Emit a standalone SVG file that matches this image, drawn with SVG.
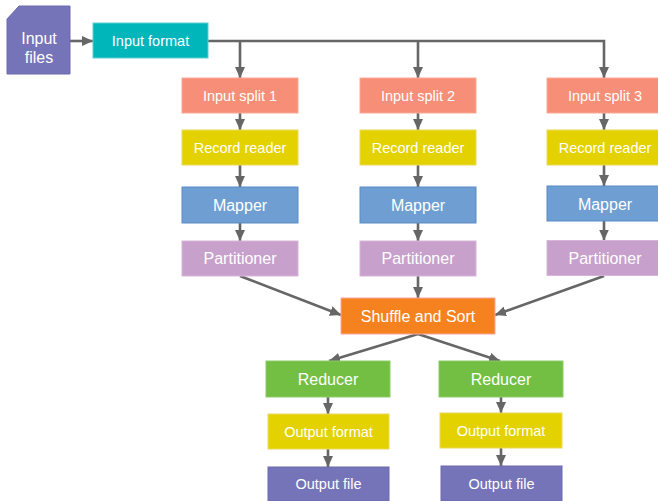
<svg xmlns="http://www.w3.org/2000/svg" width="658" height="501" viewBox="0 0 658 501">
<style>
text{font-family:"Liberation Sans",Arial,sans-serif;fill:#ffffff;text-anchor:middle}
.s{font-size:14.5px}
.l{font-size:16px}
.con path{fill:none;stroke:#666666;stroke-width:2.6;marker-end:url(#ah)}
.files{fill:#7674b8;stroke:#6c6ab0;stroke-width:1}
.fmt{fill:#00b6ba;stroke:#5ccfd0;stroke-width:1}
.split{fill:#f68e78;stroke:#f9aa96;stroke-width:1}
.rr{fill:#e3d200;stroke:#ead95a;stroke-width:1}
.map{fill:#6f9fd2;stroke:#5b8bc2;stroke-width:1}
.part{fill:#c8a0cc;stroke:#d6b6d8;stroke-width:1}
.shuf{fill:#f5821f;stroke:#f7a6a0;stroke-width:1}
.red{fill:#72bf44;stroke:#8ccc68;stroke-width:1}
</style>
<defs>
<marker id="ah" markerUnits="userSpaceOnUse" markerWidth="11" markerHeight="10" viewBox="0 0 11 10" refX="11" refY="5" orient="auto">
<path d="M0,0 L11,5 L0,10 Z" fill="#666666"/>
</marker>
</defs>
<g id="connectors" class="con">
<path d="M70,41 H93"/>
<path d="M208,41 H604 V78"/>
<path d="M240,41 V78"/>
<path d="M418,41 V78"/>
<path d="M240,113 V130"/>
<path d="M418,113 V130"/>
<path d="M604,113 V130"/>
<path d="M240,165 V187"/>
<path d="M418,165 V187"/>
<path d="M604,165 V186"/>
<path d="M240,223 V241"/>
<path d="M418,223 V241"/>
<path d="M604,221 V240.5"/>
<path d="M240,276 L341,315"/>
<path d="M418,276 V298"/>
<path d="M604,276 L495,315"/>
<path d="M418,334 L329,361"/>
<path d="M418,334 L500,361"/>
<path d="M328,397 V414"/>
<path d="M501,397 V413"/>
<path d="M328,449 V467"/>
<path d="M501,448 V466"/>
</g>
<g id="input-files"><path class="files" d="M7,19 L19,6 L70,6 L70,74 L7,74 Z"/><text class="l" x="39" y="43.5">Input</text><text class="l" x="39" y="62.5">files</text></g>
<g id="input-format"><rect class="fmt" x="93" y="23" width="115" height="35"/><text class="s" x="150.5" y="46">Input format</text></g>
<g id="split1"><rect class="split" x="182" y="78" width="116" height="35"/><text class="s" x="240" y="101">Input split 1</text></g>
<g id="split2"><rect class="split" x="360" y="78" width="116" height="35"/><text class="s" x="418" y="101">Input split 2</text></g>
<g id="split3"><rect class="split" x="547" y="78" width="116" height="35"/><text class="s" x="605" y="101">Input split 3</text></g>
<g id="rr1"><rect class="rr" x="182" y="130" width="116" height="35"/><text class="s" x="240" y="153">Record reader</text></g>
<g id="rr2"><rect class="rr" x="360" y="130" width="116" height="35"/><text class="s" x="418" y="153">Record reader</text></g>
<g id="rr3"><rect class="rr" x="547" y="130" width="116" height="35"/><text class="s" x="605" y="153">Record reader</text></g>
<g id="mapper1"><rect class="map" x="182" y="187" width="116" height="36"/><text class="l" x="240" y="211">Mapper</text></g>
<g id="mapper2"><rect class="map" x="360" y="187" width="116" height="36"/><text class="l" x="418" y="211">Mapper</text></g>
<g id="mapper3"><rect class="map" x="547" y="186" width="116" height="35"/><text class="l" x="605" y="209.5">Mapper</text></g>
<g id="part1"><rect class="part" x="182" y="241" width="116" height="35"/><text class="l" x="240" y="264">Partitioner</text></g>
<g id="part2"><rect class="part" x="360" y="241" width="116" height="35"/><text class="l" x="418" y="264">Partitioner</text></g>
<g id="part3"><rect class="part" x="547" y="240.5" width="116" height="35"/><text class="l" x="605" y="263.5">Partitioner</text></g>
<g id="shuffle"><rect class="shuf" x="341" y="298" width="154" height="36"/><text class="l" x="418" y="321.5">Shuffle and Sort</text></g>
<g id="reducer1"><rect class="red" x="266" y="361" width="124" height="36"/><text class="l" x="328" y="384.5">Reducer</text></g>
<g id="reducer2"><rect class="red" x="439" y="361" width="124" height="36"/><text class="l" x="501" y="384.5">Reducer</text></g>
<g id="outfmt1"><rect class="rr" x="268" y="414" width="121" height="35"/><text class="s" x="328.5" y="437">Output format</text></g>
<g id="outfmt2"><rect class="rr" x="440" y="413" width="122" height="35"/><text class="s" x="501" y="436">Output format</text></g>
<g id="outfile1"><rect class="files" x="268" y="467" width="121" height="34"/><text class="s" x="328.5" y="489">Output file</text></g>
<g id="outfile2"><rect class="files" x="441" y="466" width="121" height="35"/><text class="s" x="501.5" y="488.5">Output file</text></g>
</svg>
